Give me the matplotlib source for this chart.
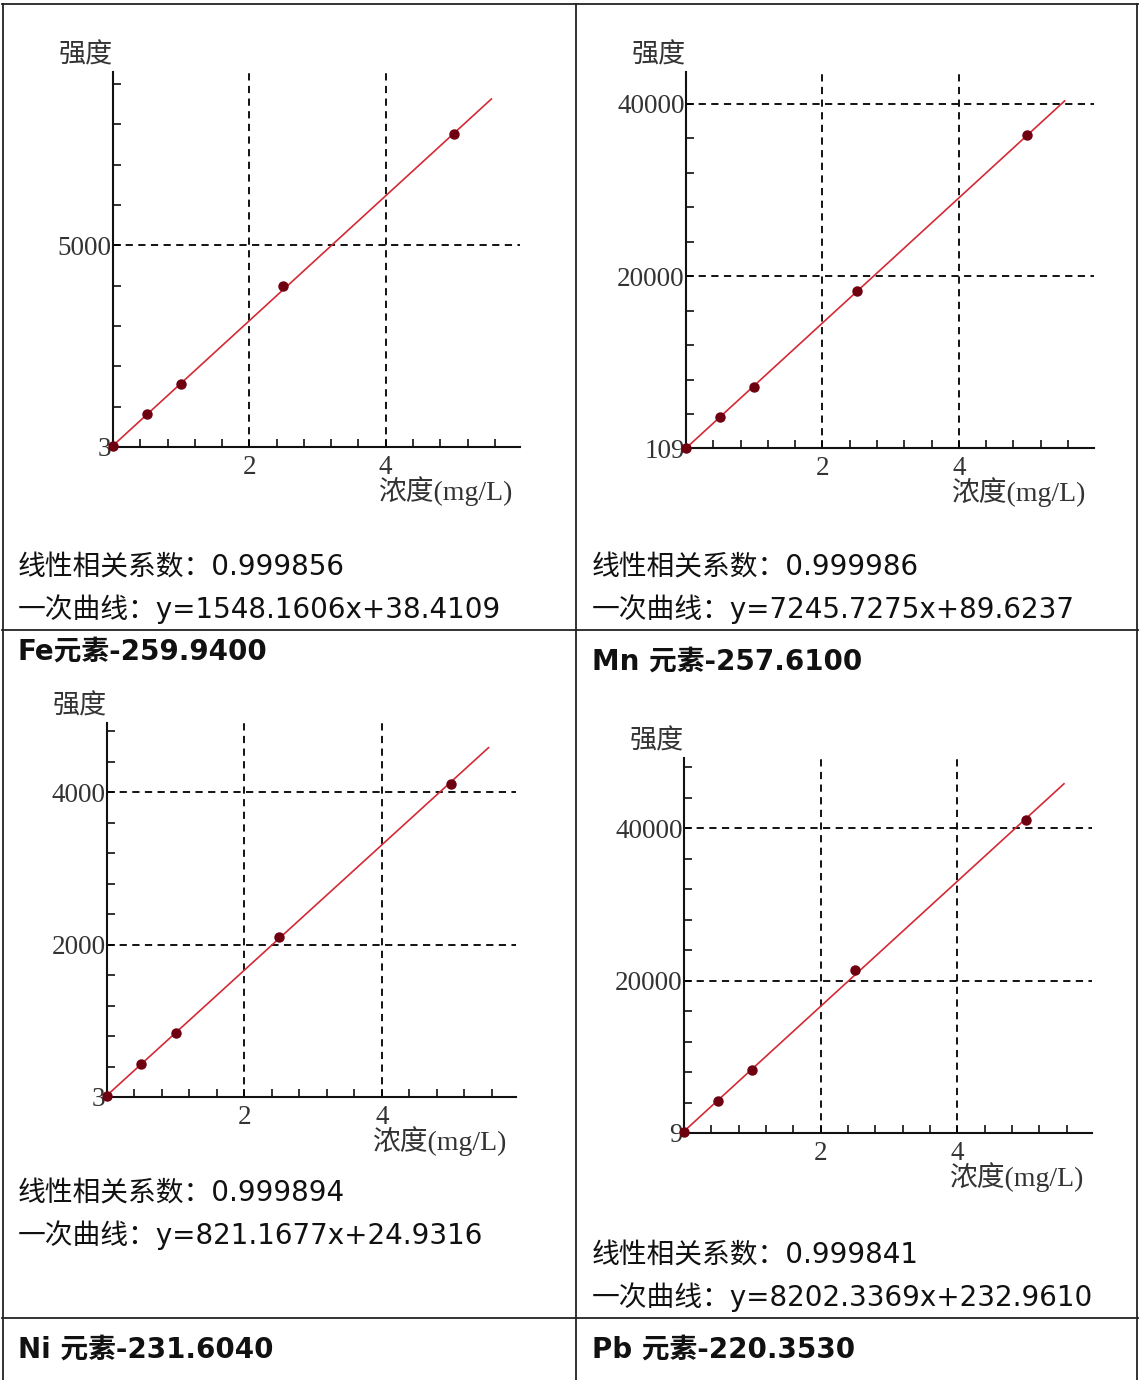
import matplotlib.pyplot as plt
import numpy as np
from matplotlib.lines import Line2D

W, H = 1140, 1380

# 标准溶液浓度 (mg/L)
conc = [0, 0.5, 1.0, 2.5, 5.0]

# 各元素标准点强度
fe_int = [40, 811, 1560, 4000, 7770]
mn_int = [110, 3700, 7170, 18290, 36320]
ni_int = [20, 432, 836, 2104, 4105]
pb_int = [150, 4250, 8320, 21350, 41120]

# 一次曲线 斜率 / 截距
slopes = [1548.1606, 7245.7275, 821.1677, 8202.3369]
intercepts = [38.4109, 89.6237, 24.9316, 232.9610]
r_values = ['0.999856', '0.999986', '0.999894', '0.999841']
fit_texts = ['y=1548.1606x+38.4109', 'y=7245.7275x+89.6237',
             'y=821.1677x+24.9316', 'y=8202.3369x+232.9610']
titles = ['Fe元素-259.9400', 'Mn 元素-257.6100', 'Ni 元素-231.6040', 'Pb 元素-220.3530']

# 坐标轴范围与刻度
y_min = [3, 109, 3, 9]
y_top = [9300, 43650, 4906, 49220]
y_major = [[5000], [20000, 40000], [2000, 4000], [20000, 40000]]
y_minor_step = [1000, 4000, 400, 4000]
x_max = [5.97, 5.98, 5.95, 5.97]
line_end = [5.55, 5.55, 5.55, 5.56]

# 版面（像素）：坐标区 左, 上, 右, 下
boxes = [(113, 72, 520, 447), (686, 72, 1094, 448),
         (107, 723, 516, 1097), (684, 758, 1092, 1133)]
text_x = [18, 592, 18, 592]
text_y = [(567, 609, 652), (567, 609, 662), (1193, 1235, 1350), (1255, 1297, 1350)]

body_font = ['DejaVu Sans', 'Noto Sans CJK SC']
chart_font = ['Liberation Serif', 'Noto Sans CJK SC']

fig = plt.figure(figsize=(W / 100, H / 100), dpi=100)


def fx(x):
    return x / W


def fy(y):
    return 1 - y / H


def table_line(x0, y0, x1, y1):
    fig.add_artist(Line2D([fx(x0), fx(x1)], [fy(y0), fy(y1)], color='#222222', lw=1.3))


# 表格框线
table_line(2, 4, 1138, 4)
table_line(3, 4, 3, 1380)
table_line(1137, 4, 1137, 1380)
table_line(576, 4, 576, 1380)
table_line(2, 630, 1138, 630)
table_line(2, 1318, 1138, 1318)

intens = [fe_int, mn_int, ni_int, pb_int]
dash = (0, (4, 3))

for i in range(4):
    l, t, r, b = boxes[i]
    ax = fig.add_axes([fx(l), fy(b), (r - l) / W, (b - t) / H])
    ax.set_facecolor('none')
    ax.set_xlim(0, x_max[i])
    ax.set_ylim(y_min[i], y_top[i])
    for s in ['top', 'right']:
        ax.spines[s].set_visible(False)
    for s in ['left', 'bottom']:
        ax.spines[s].set_linewidth(1.5)
        ax.spines[s].set_color('#111111')

    ax.set_xticks([2, 4], labels=['2', '4'])
    ax.set_xticks(np.arange(0.4, x_max[i], 0.4), minor=True)
    ax.set_yticks([y_min[i]] + y_major[i],
                  labels=[str(y_min[i])] + [str(v) for v in y_major[i]])
    ax.set_yticks(np.arange(y_minor_step[i], y_top[i], y_minor_step[i]), minor=True)
    ax.tick_params(which='both', direction='in', length=6, width=1.2, color='#111111')
    ax.tick_params(axis='y', pad=1, labelsize=19.5, labelcolor='#333333',
                   labelfontfamily='Liberation Serif')
    ax.tick_params(axis='x', pad=6, labelsize=19.5, labelcolor='#333333',
                   labelfontfamily='Liberation Serif')

    # 网格虚线
    ax.vlines([2, 4], y_min[i], y_top[i], colors='k', linestyles=dash, lw=1.3)
    ax.hlines(y_major[i], 0, x_max[i], colors='k', linestyles=dash, lw=1.3, clip_on=False)

    # 拟合直线与标准点
    xs = np.array([0, line_end[i]])
    ax.plot(xs, slopes[i] * xs + intercepts[i], color='#d42a35', lw=1.2)
    ax.plot(conc, intens[i], 'o', ms=6.5, color='#6e0010', clip_on=False, zorder=5)

    fig.text(fx(l - 27), fy(t - 16), '强度', ha='center', va='center',
             fontsize=19.5, family=chart_font, color='#333333')
    fig.text(fx(l + 265), fy(b + 44), '浓度(mg/L)', ha='left', va='center',
             fontsize=20, family=chart_font, color='#333333')

    y1, y2, y3 = text_y[i]
    fig.text(fx(text_x[i]), fy(y1), '线性相关系数：' + r_values[i], ha='left', va='center',
             fontsize=20, family=body_font, color='#111111')
    fig.text(fx(text_x[i]), fy(y2), '一次曲线：' + fit_texts[i], ha='left', va='center',
             fontsize=20, family=body_font, color='#111111')
    fig.text(fx(text_x[i]), fy(y3), titles[i], ha='left', va='center',
             fontsize=20, family=body_font, weight='bold', color='#111111')

fig.savefig('out.png', dpi=100, facecolor='white')
